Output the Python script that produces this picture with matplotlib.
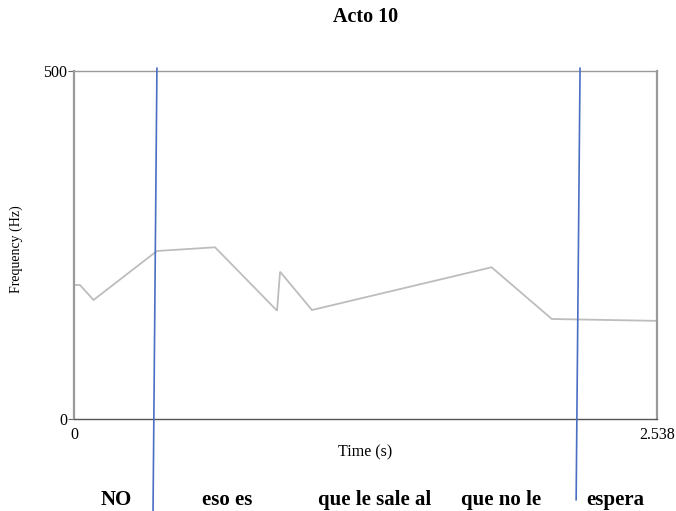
import matplotlib
matplotlib.use("Agg")
import matplotlib.pyplot as plt

# Pitch contour (time in seconds, F0 in Hz)
times = [0.0, 0.026, 0.085, 0.361, 0.614, 0.884, 0.897, 1.036, 1.818, 2.080, 2.538]
freqs = [192.5, 192.5, 171.0, 241.4, 246.7, 155.6, 211.6, 156.6, 218.0, 143.7, 141.0]

t_max = 2.538
f_max = 500

# Word boundaries: time at the top of the plot and where the line ends below it
boundary_top = [0.361, 2.203]
boundary_bottom = [0.344, 2.186]
boundary_end_hz = [-135, -116]

# Word labels and their centre times
words = ["NO", "eso es", "que le sale al", "que no le", "espera"]
word_times = [0.183, 0.668, 1.308, 1.857, 2.355]

serif = ["Liberation Serif", "DejaVu Serif"]

fig = plt.figure(figsize=(6.76, 5.11), dpi=100)
ax = fig.add_axes([74 / 676, 92 / 511, 583 / 676, 348 / 511])

ax.plot(times, freqs, color="#bdbdbd", lw=1.3, solid_joinstyle="miter")

for tt, tb, yb in zip(boundary_top, boundary_bottom, boundary_end_hz):
    ax.plot([tt, tb], [f_max + 4, yb], color="#4a6fc4", lw=1.2, clip_on=False, zorder=5)

ax.set_xlim(0, t_max)
ax.set_ylim(0, f_max)

for side in ["left", "right", "top"]:
    ax.spines[side].set_color("#9a9a9a")
ax.spines["left"].set_linewidth(1.6)
ax.spines["right"].set_linewidth(1.6)
ax.spines["top"].set_linewidth(1.0)
ax.spines["bottom"].set_color("#555555")
ax.spines["bottom"].set_linewidth(1.0)

ax.set_yticks([0, f_max])
ax.set_yticklabels(["0", "500"], fontfamily=serif, fontsize=11.5)
ax.set_xticks([0, t_max])
ax.set_xticklabels(["0", "2.538"], fontfamily=serif, fontsize=11.5)
ax.tick_params(axis="y", length=4, color="#666666", pad=1)
ax.tick_params(axis="x", length=0, pad=6)

ax.set_xlabel("Time (s)", fontfamily=serif, fontsize=11.5, labelpad=0.5)
fig.text(16 / 676, 1 - 249 / 511, "Frequency (Hz)", rotation=90, ha="center",
         va="center", fontfamily=serif, fontsize=10)

fig.text(366 / 676, 1 - 17 / 511, "Acto 10", ha="center", va="center",
         fontfamily=serif, fontsize=14.5, fontweight="bold")

for w, t in zip(words, word_times):
    ax.text(t, -124, w, ha="center", va="baseline", fontfamily=serif,
            fontsize=15, fontweight="bold", clip_on=False)

fig.savefig("out.png", dpi=100, facecolor="white")
